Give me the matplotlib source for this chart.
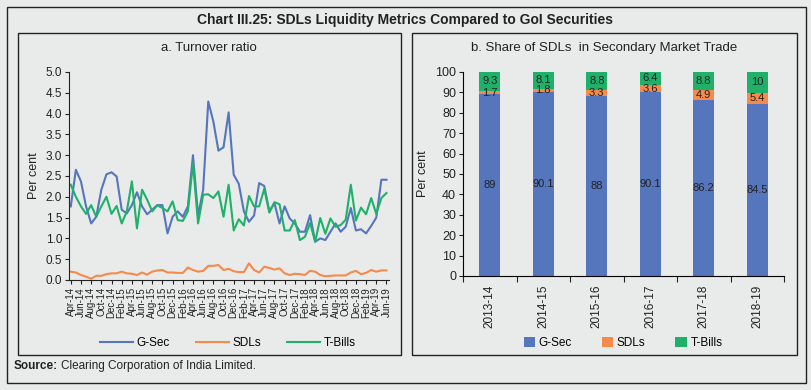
import matplotlib.pyplot as plt
import matplotlib.patches as patches
import numpy as np

plt.rcParams['font.family'] = ['Liberation Sans', 'DejaVu Sans']

# Panel a: monthly turnover ratio, Apr-14 to Jun-19
months = ['Apr', 'May', 'Jun', 'Jul', 'Aug', 'Sep', 'Oct', 'Nov', 'Dec', 'Jan', 'Feb', 'Mar']
month_labels = []
for yr in range(14, 20):
    for m in range(12):
        month_labels.append(f"{months[m]}-{yr + (1 if m >= 9 else 0)}")
month_labels = month_labels[:63]

gsec = [1.77, 2.65, 2.37, 1.77, 1.36, 1.52, 2.17, 2.54, 2.59, 2.49,
        1.69, 1.60, 1.80, 2.11, 1.77, 1.58, 1.69, 1.80, 1.80, 1.12,
        1.52, 1.65, 1.52, 1.77, 3.00, 1.55, 2.17, 4.29, 3.81, 3.11,
        3.19, 4.03, 2.53, 2.31, 1.65, 1.40, 1.55, 2.33, 2.26, 1.65,
        1.85, 1.36, 1.77, 1.48, 1.36, 1.16, 1.16, 1.56, 0.92, 1.00,
        0.96, 1.16, 1.36, 1.16, 1.28, 1.73, 1.19, 1.22, 1.12, 1.30,
        1.50, 2.41, 2.41]
sdls = [0.20, 0.18, 0.12, 0.08, 0.03, 0.10, 0.10, 0.14, 0.16, 0.16,
        0.20, 0.16, 0.15, 0.12, 0.18, 0.13, 0.20, 0.23, 0.24, 0.18,
        0.18, 0.17, 0.17, 0.30, 0.24, 0.20, 0.22, 0.34, 0.34, 0.36,
        0.24, 0.27, 0.21, 0.19, 0.19, 0.40, 0.24, 0.18, 0.32, 0.29,
        0.25, 0.28, 0.16, 0.12, 0.15, 0.14, 0.12, 0.22, 0.20, 0.12,
        0.09, 0.10, 0.11, 0.11, 0.11, 0.18, 0.22, 0.14, 0.17, 0.24,
        0.20, 0.23, 0.23]
tbills = [2.29, 2.00, 1.77, 1.59, 1.80, 1.52, 1.77, 2.00, 1.59, 1.78,
          1.36, 1.65, 2.37, 1.24, 2.17, 1.93, 1.65, 1.80, 1.73, 1.65,
          1.89, 1.44, 1.42, 1.65, 2.81, 1.36, 2.05, 2.06, 1.97, 2.13,
          1.52, 2.29, 1.19, 1.46, 1.31, 2.02, 1.77, 1.77, 2.19, 1.62,
          1.87, 1.82, 1.19, 1.19, 1.44, 0.96, 1.04, 1.37, 0.92, 1.49,
          1.11, 1.48, 1.28, 1.32, 1.45, 2.29, 1.43, 1.74, 1.58, 1.97,
          1.59, 1.97, 2.09]

# Panel b: share in secondary market trade
years = ['2013-14', '2014-15', '2015-16', '2016-17', '2017-18', '2018-19']
share_gsec = [89, 90.1, 88, 90.1, 86.2, 84.5]
share_sdls = [1.7, 1.8, 3.3, 3.6, 4.9, 5.4]
share_tbills = [9.3, 8.1, 8.8, 6.4, 8.8, 10]

bg = '#e9ebea'
c_blue = '#5575bd'
c_orange = '#f58a4b'
c_green = '#1fb16a'
txt = '#222222'

W, H = 811, 390
fig = plt.figure(figsize=(W / 100, H / 100), dpi=100, facecolor=bg)


def box(x0, y0, x1, y1, lw=1.0):
    fig.add_artist(patches.Rectangle((x0 / W, 1 - y1 / H), (x1 - x0) / W, (y1 - y0) / H,
                                     transform=fig.transFigure, fill=False,
                                     edgecolor='#222222', linewidth=lw))


def ax_rect(x0, y0, x1, y1):
    return [x0 / W, 1 - y1 / H, (x1 - x0) / W, (y1 - y0) / H]


box(7, 7, 806, 383)
box(18, 33, 401, 355)
box(412, 33, 797, 355)

narrow = ['Liberation Sans Narrow', 'Liberation Sans']
fig.text(405 / W, 1 - 20 / H, 'Chart III.25: SDLs Liquidity Metrics Compared to GoI Securities',
         ha='center', va='center', fontsize=10, fontweight='bold', color=txt, family=narrow)
fig.text(209 / W, 1 - 48 / H, 'a. Turnover ratio', ha='center', va='center', fontsize=9.5,
         color=txt, family=narrow)
fig.text(604 / W, 1 - 48 / H, 'b. Share of SDLs  in Secondary Market Trade', ha='center',
         va='center', fontsize=9.5, color=txt, family=narrow)
fig.text(14 / W, 1 - 366 / H, 'Source:', ha='left', va='center', fontsize=8.5,
         fontweight='bold', color=txt)
fig.text(61 / W, 1 - 366 / H, 'Clearing Corporation of India Limited.', ha='left',
         va='center', fontsize=8.5, color=txt)

# ---- panel a
ax1 = fig.add_axes(ax_rect(69, 72, 389, 280))
ax1.set_facecolor(bg)
x = np.arange(len(gsec))
ax1.plot(x, gsec, color=c_blue, lw=1.5, label='G-Sec')
ax1.plot(x, sdls, color=c_orange, lw=1.5, label='SDLs')
ax1.plot(x, tbills, color=c_green, lw=1.5, label='T-Bills')
ax1.set_xlim(-0.35, 62.5)
ax1.set_ylim(0, 5.0)
ax1.set_yticks(np.arange(0, 5.01, 0.5))
ax1.set_yticklabels([f"{v:.1f}" for v in np.arange(0, 5.01, 0.5)], fontsize=8.5, color=txt)
ax1.set_xticks(x[::2])
ax1.set_xticklabels(month_labels[::2], rotation=90, fontsize=7, color=txt)
ax1.tick_params(axis='both', length=3, width=0.8, colors='#222222', pad=2)
for s in ['top', 'right']:
    ax1.spines[s].set_visible(False)
for s in ['left', 'bottom']:
    ax1.spines[s].set_color('#222222')
ax1.set_ylabel('Per cent', fontsize=9, color=txt, labelpad=4)
leg1 = ax1.legend(loc='center', bbox_to_anchor=(228 / W, 1 - 343 / H),
                  bbox_transform=fig.transFigure, ncol=3, frameon=False, fontsize=8.5,
                  handlelength=2.8, columnspacing=2.2, handletextpad=0.3)

# ---- panel b
ax2 = fig.add_axes(ax_rect(463, 72, 784, 276))
ax2.set_facecolor(bg)
xb = np.arange(len(years))
bottom2 = np.array(share_gsec)
bottom3 = bottom2 + np.array(share_sdls)
b1 = ax2.bar(xb, share_gsec, width=0.4, color=c_blue, label='G-Sec')
b2 = ax2.bar(xb, share_sdls, width=0.4, bottom=bottom2, color=c_orange, label='SDLs')
b3 = ax2.bar(xb, share_tbills, width=0.4, bottom=bottom3, color=c_green, label='T-Bills')
for i in range(len(years)):
    ax2.text(xb[i], share_gsec[i] / 2, f"{share_gsec[i]:g}", ha='center', va='center',
             fontsize=8, color=txt)
    ax2.text(xb[i], bottom2[i] + share_sdls[i] / 2, f"{share_sdls[i]:g}", ha='center',
             va='center', fontsize=8, color=txt)
    ax2.text(xb[i], bottom3[i] + share_tbills[i] / 2, f"{share_tbills[i]:g}", ha='center',
             va='center', fontsize=8, color=txt)
ax2.set_xlim(-0.5, len(years) - 0.5)
ax2.set_ylim(0, 100)
ax2.set_yticks(np.arange(0, 101, 10))
ax2.tick_params(axis='y', labelsize=9, length=3, width=0.8, colors='#222222', pad=2)
ax2.set_xticks(np.arange(-0.5, len(years), 1))
ax2.set_xticklabels([])
ax2.set_xticks(xb, minor=True)
ax2.set_xticklabels(years, minor=True, rotation=90, fontsize=8.5, color=txt)
ax2.tick_params(axis='x', which='major', length=4, width=0.8, colors='#222222')
ax2.tick_params(axis='x', which='minor', length=0, pad=6)
for s in ['top', 'right']:
    ax2.spines[s].set_visible(False)
ax2.set_ylabel('Per cent', fontsize=9, color=txt, labelpad=4)
ax2.legend(loc='center', bbox_to_anchor=(623 / W, 1 - 343 / H),
           bbox_transform=fig.transFigure, ncol=3, frameon=False, fontsize=8.5,
           handlelength=1.0, handleheight=1.0, columnspacing=2.5, handletextpad=0.3)

fig.savefig('out.png', dpi=100, facecolor=bg)
